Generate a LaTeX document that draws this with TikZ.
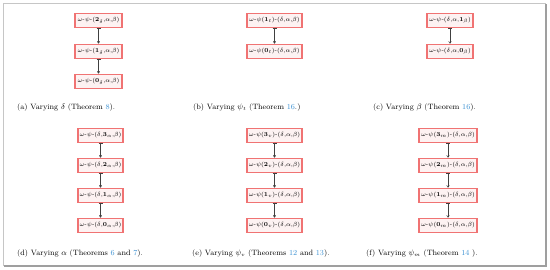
\documentclass[tikz,border=0pt]{standalone}
\usetikzlibrary{arrows.meta}
\definecolor{boxred}{RGB}{240,115,115}
\definecolor{boxfill}{RGB}{253,242,242}
\definecolor{linkblue}{RGB}{60,145,210}
\newcommand{\ompsA}[1]{$\omega$-$\psi$-(#1)}
\newcommand{\ompsB}[1]{$\omega$-$\psi$(#1)-($\delta$,$\alpha$,$\beta$)}
\begin{document}
\begin{tikzpicture}[x=1pt,y=-1pt,
  stbox/.style={draw=boxred, line width=1.2pt, fill=boxfill, minimum height=14.5pt, inner sep=0pt, font=\fontsize{5.8}{7}\selectfont},
  conn/.style={{Bar[width=4pt]}-{To[length=2.5pt,width=3pt]}, line width=0.55pt, black!75},
  captxt/.style={anchor=west, font=\fontsize{7.7}{9}\selectfont, inner sep=0pt}]
\useasboundingbox (0,0) rectangle (550,269);
\draw[gray!45, line width=0.8pt] (3,3) rectangle (545,265);
\draw[gray!75, line width=1.2pt] (546,4) -- (546,266) -- (4,266);
% (a)
\node[stbox, minimum width=47pt] (a1) at (98.5,20.5) {\ompsA{$\mathbf{2}_\delta$,$\alpha$,$\beta$}};
\node[stbox, minimum width=47pt] (a2) at (98.5,51.5) {\ompsA{$\mathbf{1}_\delta$,$\alpha$,$\beta$}};
\node[stbox, minimum width=47pt] (a3) at (98.5,81.5) {\ompsA{$\mathbf{0}_\delta$,$\alpha$,$\beta$}};
\draw[conn] (a1) -- (a2);
\draw[conn] (a2) -- (a3);
\node[captxt] (capa) at (17,108) {(a) Varying $\delta$ (Theorem \textcolor{linkblue}{8}).};
% (b)
\node[stbox, minimum width=55pt] (b1) at (274.5,20.5) {\ompsB{$\mathbf{1}_t$}};
\node[stbox, minimum width=55pt] (b2) at (274.5,51.5) {\ompsB{$\mathbf{0}_t$}};
\draw[conn] (b1) -- (b2);
\node[captxt] (capb) at (193,108) {(b) Varying $\psi_t$ (Theorem \textcolor{linkblue}{16}.)};
% (c)
\node[stbox, minimum width=46pt] (c1) at (450,20.5) {\ompsA{$\delta$,$\alpha$,$\mathbf{1}_\beta$}};
\node[stbox, minimum width=46pt] (c2) at (450,51.5) {\ompsA{$\delta$,$\alpha$,$\mathbf{0}_\beta$}};
\draw[conn] (c1) -- (c2);
\node[captxt] (capc) at (373,108) {(c) Varying $\beta$ (Theorem \textcolor{linkblue}{16}).};
% (d)
\node[stbox, minimum width=45pt] (d1) at (100.5,135.5) {\ompsA{$\delta$,$\mathbf{3}_\alpha$,$\beta$}};
\node[stbox, minimum width=45pt] (d2) at (100.5,165.5) {\ompsA{$\delta$,$\mathbf{2}_\alpha$,$\beta$}};
\node[stbox, minimum width=45pt] (d3) at (100.5,195.5) {\ompsA{$\delta$,$\mathbf{1}_\alpha$,$\beta$}};
\node[stbox, minimum width=45pt] (d4) at (100.5,225.5) {\ompsA{$\delta$,$\mathbf{0}_\alpha$,$\beta$}};
\draw[conn] (d1) -- (d2);
\draw[conn] (d2) -- (d3);
\draw[conn] (d3) -- (d4);
\node[captxt] (capd) at (17,254) {(d) Varying $\alpha$ (Theorems \textcolor{linkblue}{6} and \textcolor{linkblue}{7}).};
% (e)
\node[stbox, minimum width=55pt] (e1) at (274.5,135.5) {\ompsB{$\mathbf{3}_v$}};
\node[stbox, minimum width=55pt] (e2) at (274.5,165.5) {\ompsB{$\mathbf{2}_v$}};
\node[stbox, minimum width=55pt] (e3) at (274.5,195.5) {\ompsB{$\mathbf{1}_v$}};
\node[stbox, minimum width=55pt] (e4) at (274.5,225.5) {\ompsB{$\mathbf{0}_v$}};
\draw[conn] (e1) -- (e2);
\draw[conn] (e2) -- (e3);
\draw[conn] (e3) -- (e4);
\node[captxt] (cape) at (192,254) {(e) Varying $\psi_v$ (Theorems \textcolor{linkblue}{12} and \textcolor{linkblue}{13}).};
% (f)
\node[stbox, minimum width=58pt] (f1) at (448,135.5) {\ompsB{$\mathbf{3}_m$}};
\node[stbox, minimum width=58pt] (f2) at (448,165.5) {\ompsB{$\mathbf{2}_m$}};
\node[stbox, minimum width=58pt] (f3) at (448,195.5) {\ompsB{$\mathbf{1}_m$}};
\node[stbox, minimum width=58pt] (f4) at (448,225.5) {\ompsB{$\mathbf{0}_m$}};
\draw[conn] (f1) -- (f2);
\draw[conn] (f2) -- (f3);
\draw[conn] (f3) -- (f4);
\node[captxt] (capf) at (366,254) {(f) Varying $\psi_m$ (Theorem \textcolor{linkblue}{14} ).};
\end{tikzpicture}
\end{document}
